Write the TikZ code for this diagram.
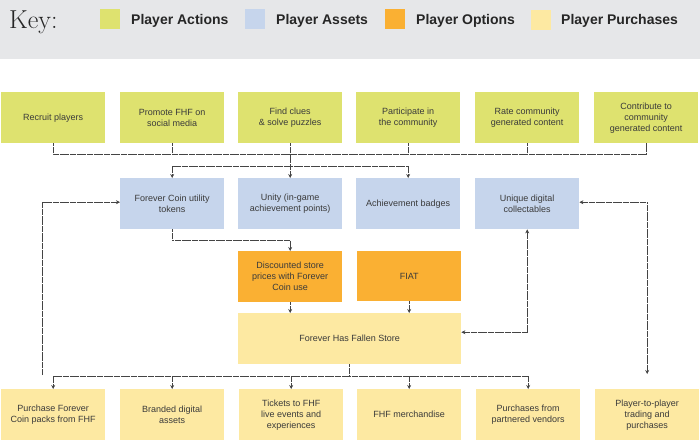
\documentclass[tikz,border=0pt]{standalone}
\usepackage{fontspec}
\newfontfamily\boxfont{Liberation Sans}
\usetikzlibrary{arrows.meta}
\definecolor{act}{HTML}{DEE26F}
\definecolor{ast}{HTML}{C6D5EC}
\definecolor{opt}{HTML}{FAB033}
\definecolor{pur}{HTML}{FDE9A2}
\definecolor{hdr}{HTML}{E6E7E9}
\definecolor{txt}{HTML}{3A3A3A}
\definecolor{lnc}{HTML}{444444}
\begin{document}
\begin{tikzpicture}[x=1pt,y=-1pt,
  box/.style={inner sep=0pt, align=center, anchor=north west, minimum width=104pt, minimum height=51pt,
    font=\boxfont\fontsize{9}{11}\selectfont, text=txt},
  swatch/.style={inner sep=0pt, anchor=north west, minimum width=20pt, minimum height=20pt},
  legtext/.style={inner sep=0pt, anchor=base west, font=\boxfont\bfseries\fontsize{14}{16}\selectfont, text=black!85},
  conn/.style={draw=lnc, line width=0.6pt, dash pattern=on 3pt off 0.4pt},
  arr/.style={-{Stealth[length=4pt,width=4pt]}},
  darr/.style={{Stealth[length=4pt,width=4pt]}-{Stealth[length=4pt,width=4pt]}}]
\useasboundingbox (0,0) rectangle (700,445);
\fill[hdr] (0,0) rectangle (700,59);
% legend
\node[inner sep=0pt, anchor=base west, text=black!85, font=\fontsize{26}{30}\selectfont] (key) at (9,28) {Key:};
\node[swatch, fill=act] (k1) at (100,9) {};
\node[legtext] (t1) at (131,24.5) {Player Actions};
\node[swatch, fill=ast] (k2) at (245,9) {};
\node[legtext] (t2) at (276,24.5) {Player Assets};
\node[swatch, fill=opt] (k3) at (385,9) {};
\node[legtext] (t3) at (416,24.5) {Player Options};
\node[swatch, fill=pur] (k4) at (531,10) {};
\node[legtext] (t4) at (561,24.5) {Player Purchases};
% row 1
\node[box, fill=act] (r1) at (1,92) {Recruit players};
\node[box, fill=act] (r2) at (120,92) {Promote FHF on\\social media};
\node[box, fill=act] (r3) at (238,92) {Find clues\\\& solve puzzles};
\node[box, fill=act] (r4) at (356,92) {Participate in\\the community};
\node[box, fill=act] (r5) at (475,92) {Rate community\\generated content};
\node[box, fill=act] (r6) at (594,92) {Contribute to\\community\\generated content};
% row 2
\node[box, fill=ast] (a1) at (120,178) {Forever Coin utility\\tokens};
\node[box, fill=ast] (a2) at (238,178) {Unity (in-game\\achievement points)};
\node[box, fill=ast] (a3) at (356,178) {Achievement badges};
\node[box, fill=ast] (a4) at (475,178) {Unique digital\\collectables};
% row 3
\node[box, fill=opt] (d) at (238,251) {Discounted store\\prices with Forever\\Coin use};
\node[box, fill=opt, minimum height=50pt] (f) at (357,251) {FIAT};
\node[box, fill=pur, minimum width=223pt] (s) at (238,313) {Forever Has Fallen Store};
% row 4
\node[box, fill=pur] (p1) at (1,389) {Purchase Forever\\Coin packs from FHF};
\node[box, fill=pur] (p2) at (120,389) {Branded digital\\assets};
\node[box, fill=pur] (p3) at (239,389) {Tickets to FHF\\live events and\\experiences};
\node[box, fill=pur] (p4) at (357,389) {FHF merchandise};
\node[box, fill=pur] (p5) at (476,389) {Purchases from\\partnered vendors};
\node[box, fill=pur] (p6) at (595,389) {Player-to-player\\trading and\\purchases};
% connectors
\coordinate (busT) at (0,154);
\coordinate (bus2) at (0,166);
\coordinate (busB) at (0,376);
\draw[conn] (r1.south) |- (r6.south |- busT) -- (r6.south);
\foreach \n in {r2,r4,r5} \draw[conn] (\n.south) -- (\n.south |- busT);
\draw[conn, arr] (r3.south) -- (a2.north);
\draw[conn, arr] (a2.north |- bus2) -| (a1.north);
\draw[conn, arr] (a2.north |- bus2) -| (a3.north);
\draw[conn, arr] (a1.south) -- ++(0,11) -| (d.north);
\draw[conn, arr] (d.south) -- (s.north -| d.south);
\draw[conn, arr] (f.south) -- (s.north -| f.south);
\draw[conn, darr] ([yshift=6.5pt]s.east) -| (a4.south);
\coordinate (p6top) at ([yshift=15pt]p6.north);
\draw[conn, darr] ([yshift=1.5pt]a4.east) -| (p6top);
\draw[conn] (s.south) -- (s.south |- busB);
\draw[conn, arr] (p5.north |- busB) -| (p1.north);
\foreach \n in {p2,p3,p4,p5} \draw[conn, arr] (\n.north |- busB) -- (\n.north);
\coordinate (lft) at (42,375);
\draw[conn, arr] (lft) |- ([yshift=1.5pt]a1.west);
\end{tikzpicture}
\end{document}
